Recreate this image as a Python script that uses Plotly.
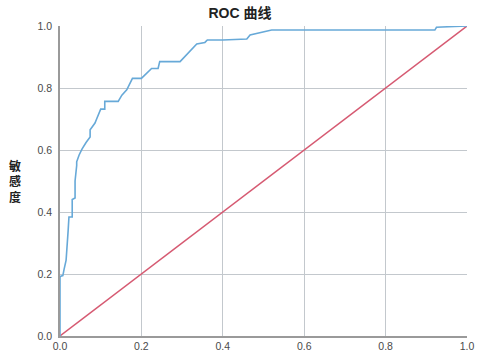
import plotly.graph_objects as go

# ROC curve (1 - specificity, sensitivity)
fpr = [0.0, 0.0, 0.002, 0.007, 0.010, 0.015, 0.020, 0.022, 0.030, 0.030, 0.037, 0.037, 0.041,
       0.041, 0.047, 0.054, 0.064, 0.074, 0.074, 0.086, 0.090, 0.100, 0.110, 0.110, 0.143,
       0.152, 0.164, 0.174, 0.178, 0.200, 0.225, 0.241, 0.245, 0.295, 0.310, 0.336, 0.356,
       0.362, 0.400, 0.459, 0.467, 0.480, 0.500, 0.520, 0.921, 0.925, 1.0]
tpr = [0.0, 0.190, 0.193, 0.195, 0.215, 0.245, 0.340, 0.384, 0.384, 0.440, 0.445, 0.500, 0.550,
       0.562, 0.584, 0.603, 0.624, 0.642, 0.665, 0.687, 0.700, 0.732, 0.732, 0.757, 0.757,
       0.777, 0.794, 0.820, 0.831, 0.831, 0.863, 0.863, 0.885, 0.885, 0.905, 0.942, 0.947,
       0.955, 0.955, 0.958, 0.971, 0.975, 0.982, 0.987, 0.987, 0.996, 1.0]
ref_x = [0.0, 1.0]
ref_y = [0.0, 1.0]
ticks = [0.0, 0.2, 0.4, 0.6, 0.8, 1.0]
tick_text = ["0.0", "0.2", "0.4", "0.6", "0.8", "1.0"]
ylabel_chars = ["敏", "感", "度"]

fig = go.Figure()
fig.add_trace(go.Scatter(x=ref_x, y=ref_y, mode="lines",
                         line=dict(color="#d65a72", width=1.4), hoverinfo="skip"))
fig.add_trace(go.Scatter(x=fpr, y=tpr, mode="lines",
                         line=dict(color="#67a9d8", width=1.6)))

axis_common = dict(range=[0, 1], tickvals=ticks, ticktext=tick_text,
                   showgrid=True, gridcolor="#c3c8cd", gridwidth=1.4,
                   zeroline=False, ticks="", automargin=False,
                   tickfont=dict(family="Liberation Sans, Arial", size=10.5, color="#4a4a4a"),
                   showline=True, linecolor="#9a9a9a", linewidth=1.5, mirror=False)
fig.update_xaxes(**axis_common)
fig.update_yaxes(**axis_common)
fig.update_yaxes(ticklabelstandoff=4)

annotations = []
for i, ch in enumerate(ylabel_chars):
    annotations.append(dict(text=ch, xref="paper", yref="paper",
                            x=-0.11, y=0.548 - i * 0.05, xanchor="center", yanchor="middle",
                            showarrow=False, textangle=0,
                            font=dict(family="Liberation Sans, Noto Sans CJK SC", size=12,
                                      color="#222222", weight="bold")))

fig.update_layout(
    width=480, height=351,
    margin=dict(l=60, r=13, t=26, b=15),
    paper_bgcolor="white", plot_bgcolor="white",
    showlegend=False,
    title=dict(text="<b>ROC 曲线</b>", x=0.5, xanchor="center", y=0.962, yanchor="middle",
               font=dict(family="Liberation Sans, Noto Sans CJK SC", size=14, color="#222222")),
    annotations=annotations,
)
fig.write_html("out.html")
